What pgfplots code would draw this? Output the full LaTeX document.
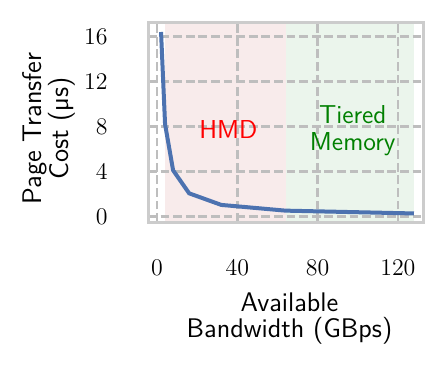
\documentclass[border=0pt]{standalone}
\usepackage{fontspec}
\usepackage{pgfplots}
\pgfplotsset{compat=1.18}
\definecolor{sblue}{HTML}{4C72B0}
\definecolor{framegray}{HTML}{CCCCCC}
\definecolor{gridgray}{HTML}{BEBEBE}
\definecolor{mplgreen}{HTML}{008000}
\definecolor{pinkfill}{HTML}{F8EBEB}
\definecolor{greenfill}{HTML}{EBF5EC}
\begin{document}
\begin{tikzpicture}
\begin{axis}[
  name=ax,
  set layers,
  scale only axis,
  width=137.5bp, height=99.5bp,
  xmin=-4.5, xmax=132.5,
  ymin=-0.5, ymax=17.2,
  xtick={0,40,80,120},
  ytick={0,4,8,12,16},
  major tick length=0pt,
  axis line style={framegray, line width=1.5bp},
  grid=major,
  major grid style={gridgray, line width=1.2bp, dash pattern=on 4.4bp off 1.9bp},
  tick label style={font=\fontsize{12.5}{14}\selectfont, inner sep=0pt},
  xticklabel style={anchor=north, yshift=-19bp},
  yticklabel style={anchor=east, xshift=-20bp},
  xlabel={Available\\Bandwidth (GBps)},
  ylabel={Page Transfer\\Cost (µs)},
  label style={font=\sffamily\fontsize{13.5}{13.5}\selectfont, align=center, inner sep=0pt},
  xlabel style={at={(rel axis cs:0.5,0)}, anchor=north, yshift=-35bp, xshift=2bp},
  ylabel style={at={(rel axis cs:0,0.5)}, anchor=south, yshift=36bp, xshift=-3bp},
  clip=true,
]
\addplot[on layer=axis background, draw=none, fill=pinkfill] coordinates {(4,-0.5) (4,17.2) (64,17.2) (64,-0.5)} -- cycle;
\addplot[on layer=axis background, draw=none, fill=greenfill] coordinates {(64,-0.5) (64,17.2) (128,17.2) (128,-0.5)} -- cycle;
\addplot[sblue, line width=2bp, no marks] coordinates {
(2,16.4) (4,8.2) (8,4.1) (16,2.05) (32,1.02) (64,0.51) (128,0.26)
};
\node[red, font=\sffamily\fontsize{13}{13}\selectfont, inner sep=0pt] at (axis cs:35.5,7.7) {HMD};
\node[mplgreen, font=\sffamily\fontsize{13}{13.7}\selectfont, align=center, inner sep=0pt] at (axis cs:97.5,7.6) {Tiered\\Memory};
\end{axis}
\pgfresetboundingbox
\path (ax.south west) ++(-74bp,-73.5bp) rectangle ++(224bp,184.5bp);
\end{tikzpicture}
\end{document}
